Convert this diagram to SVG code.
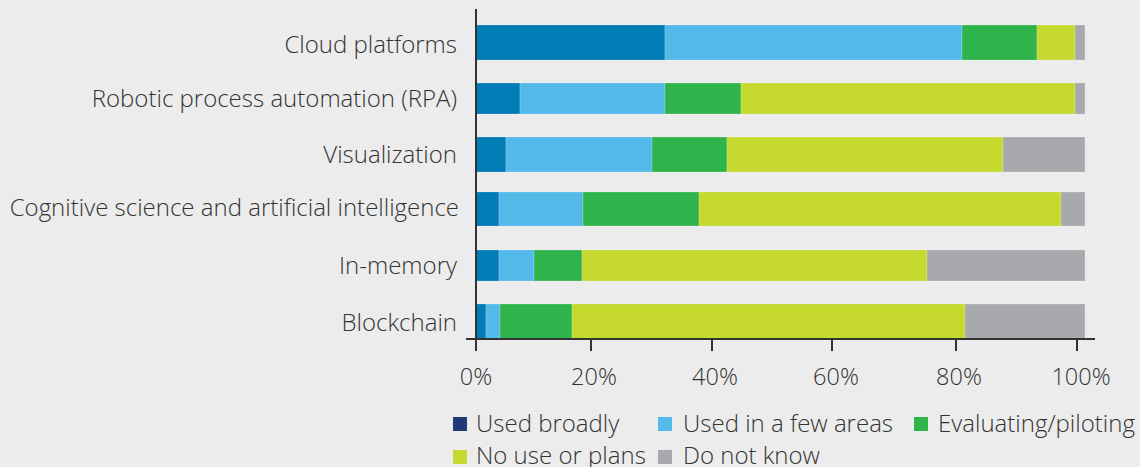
<svg xmlns="http://www.w3.org/2000/svg" width="1140" height="467" viewBox="0 0 1140 467">
<style>
text{font-family:"Open Sans","Liberation Sans",sans-serif;font-weight:300;fill:#333333;font-size:24px}
.lbl{text-anchor:end}
.tick{text-anchor:middle;font-size:23.5px}
.ax{stroke:#333333;stroke-width:2;fill:none}
.s rect{stroke:#ffffff;stroke-opacity:0.25;stroke-width:0.8}
.c1{fill:#027cb7}.c2{fill:#52b9e9}.c3{fill:#2fb34b}.c4{fill:#c5d92f}.c5{fill:#a8a9ac}
.l1{fill:#203a78}
</style>
<rect width="1140" height="467" fill="#ececec"/>
<g id="labels">
<text class="lbl" x="457" y="53">Cloud platforms</text>
<text class="lbl" x="457" y="107">Robotic process automation (RPA)</text>
<text class="lbl" x="457" y="163">Visualization</text>
<text class="lbl" x="459" y="216">Cognitive science and artificial intelligence</text>
<text class="lbl" x="457" y="274">In-memory</text>
<text class="lbl" x="457" y="331">Blockchain</text>
</g>
<g id="bars" class="s">
<g id="row-cloud">
<rect class="c1" x="476" y="25" width="189" height="35"/>
<rect class="c2" x="665" y="25" width="297" height="35"/>
<rect class="c3" x="962" y="25" width="75" height="35"/>
<rect class="c4" x="1037" y="25" width="38" height="35"/>
<rect class="c5" x="1075" y="25" width="10" height="35"/>
</g>
<g id="row-rpa">
<rect class="c1" x="476" y="83" width="44" height="31"/>
<rect class="c2" x="520" y="83" width="145" height="31"/>
<rect class="c3" x="665" y="83" width="76" height="31"/>
<rect class="c4" x="741" y="83" width="334" height="31"/>
<rect class="c5" x="1075" y="83" width="10" height="31"/>
</g>
<g id="row-vis">
<rect class="c1" x="476" y="137" width="30" height="35"/>
<rect class="c2" x="506" y="137" width="146" height="35"/>
<rect class="c3" x="652" y="137" width="75" height="35"/>
<rect class="c4" x="727" y="137" width="276" height="35"/>
<rect class="c5" x="1003" y="137" width="82" height="35"/>
</g>
<g id="row-cog">
<rect class="c1" x="476" y="192" width="23" height="34"/>
<rect class="c2" x="499" y="192" width="84" height="34"/>
<rect class="c3" x="583" y="192" width="116" height="34"/>
<rect class="c4" x="699" y="192" width="362" height="34"/>
<rect class="c5" x="1061" y="192" width="24" height="34"/>
</g>
<g id="row-mem">
<rect class="c1" x="476" y="250" width="23" height="31"/>
<rect class="c2" x="499" y="250" width="35" height="31"/>
<rect class="c3" x="534" y="250" width="48" height="31"/>
<rect class="c4" x="582" y="250" width="345" height="31"/>
<rect class="c5" x="927" y="250" width="158" height="31"/>
</g>
<g id="row-block">
<rect class="c1" x="476" y="304" width="10" height="35"/>
<rect class="c2" x="486" y="304" width="14" height="35"/>
<rect class="c3" x="500" y="304" width="72" height="35"/>
<rect class="c4" x="572" y="304" width="393" height="35"/>
<rect class="c5" x="965" y="304" width="120" height="35"/>
</g>
</g>
<g id="axes">
<line class="ax" x1="476" y1="9" x2="476" y2="351"/>
<line class="ax" x1="466" y1="339" x2="1095" y2="339"/>
<line class="ax" x1="591" y1="339" x2="591" y2="351"/>
<line class="ax" x1="712" y1="339" x2="712" y2="351"/>
<line class="ax" x1="832" y1="339" x2="832" y2="351"/>
<line class="ax" x1="956" y1="339" x2="956" y2="351"/>
<line class="ax" x1="1077" y1="339" x2="1077" y2="351"/>
<text class="tick" x="476" y="385">0%</text>
<text class="tick" x="594" y="385">20%</text>
<text class="tick" x="715" y="385">40%</text>
<text class="tick" x="836" y="385">60%</text>
<text class="tick" x="959" y="385">80%</text>
<text class="tick" x="1081" y="385">100%</text>
</g>
<g id="legend">
<rect class="l1" x="453" y="417" width="14" height="14"/>
<text x="476" y="432">Used broadly</text>
<rect class="c2" x="658" y="417" width="14" height="14"/>
<text x="683" y="432">Used in a few areas</text>
<rect class="c3" x="914" y="417" width="14" height="14"/>
<text x="938" y="432">Evaluating/piloting</text>
<rect class="c4" x="453" y="450" width="14" height="14"/>
<text x="476" y="464">No use or plans</text>
<rect class="c5" x="658" y="450" width="14" height="14"/>
<text x="683" y="464">Do not know</text>
</g>
</svg>
